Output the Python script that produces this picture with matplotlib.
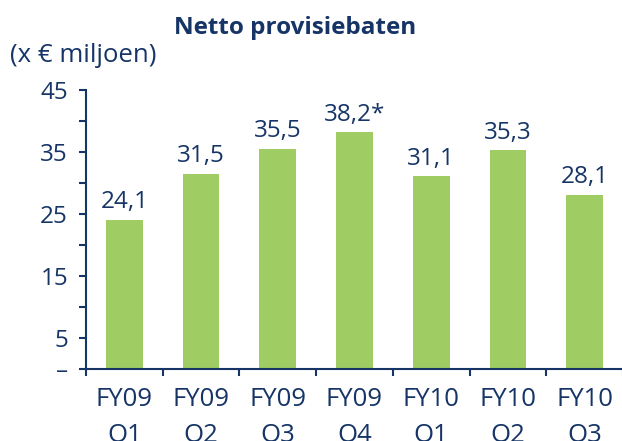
import matplotlib
matplotlib.use('Agg')
import matplotlib.pyplot as plt
import numpy as np

plt.rcParams['font.family'] = ['Open Sans', 'DejaVu Sans']

# data
categories = ['FY09\nQ1', 'FY09\nQ2', 'FY09\nQ3', 'FY09\nQ4', 'FY10\nQ1', 'FY10\nQ2', 'FY10\nQ3']
values = [24.1, 31.5, 35.5, 38.2, 31.1, 35.3, 28.1]
value_labels = ['24,1', '31,5', '35,5', '38,2*', '31,1', '35,3', '28,1']
ytick_vals = [0, 5, 10, 15, 20, 25, 30, 35, 40, 45]
ytick_labels = ['–', '5', '', '15', '', '25', '', '35', '', '45']

navy = '#163566'
green = '#9fcd63'

fig = plt.figure(figsize=(6.22, 4.41), dpi=100)
ax = fig.add_axes([86 / 622, 1 - 369 / 441, 537 / 622, (369 - 90) / 441])

x = np.arange(len(values))
ax.bar(x, values, width=0.48, color=green, zorder=2)

# waarden boven de staven
for xi, v, lab in zip(x, values, value_labels):
    ax.annotate(lab, (xi, v), xytext=(0, 4), textcoords='offset points',
                ha='center', va='bottom', fontsize=17.5, color=navy)

ax.set_xlim(-0.5, len(values) - 0.5)
ax.set_ylim(0, 45)

ax.set_yticks(ytick_vals)
ax.set_yticklabels(ytick_labels)
ax.set_xticks(x)
ax.set_xticklabels(categories, linespacing=1.55)
ax.set_xticks(np.arange(len(values) + 1) - 0.5, minor=True)

ax.tick_params(axis='y', direction='out', length=5, width=1.5, color=navy,
               labelcolor=navy, labelsize=17.5, pad=8)
ax.tick_params(axis='x', which='major', length=0, labelcolor=navy,
               labelsize=18.5, pad=13)
ax.tick_params(axis='x', which='minor', direction='out', length=5, width=1.5, color=navy)

for s in ['top', 'right']:
    ax.spines[s].set_visible(False)
for s in ['left', 'bottom']:
    ax.spines[s].set_color(navy)
    ax.spines[s].set_linewidth(1.5)

fig.text(295 / 622, 1 - 28 / 441, 'Netto provisiebaten', ha='center', va='center',
         fontsize=17.5, fontweight='bold', color=navy)
fig.text(10 / 622, 1 - 55 / 441, '(x € miljoen)', ha='left', va='center',
         fontsize=18.5, color=navy)

fig.savefig('out.png', dpi=100)
